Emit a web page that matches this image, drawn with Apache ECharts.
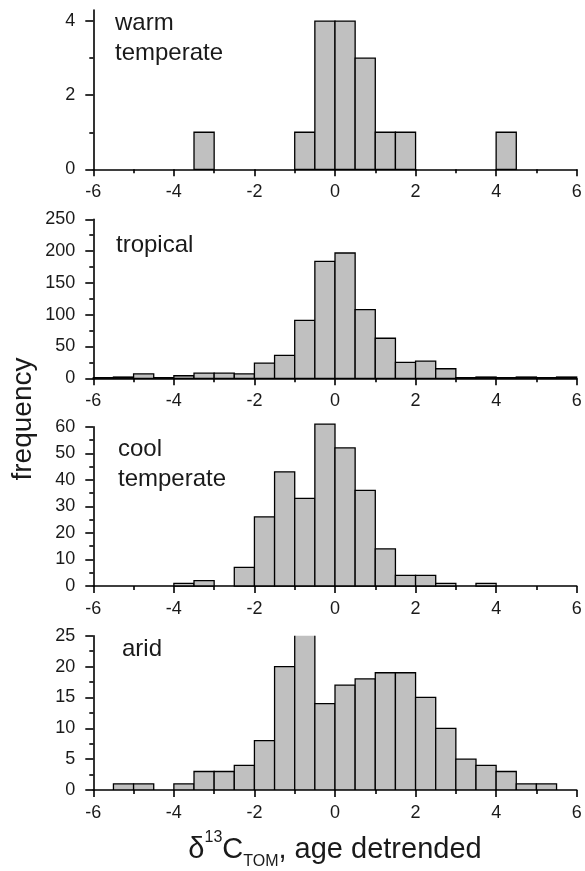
<!DOCTYPE html>
<html>
<head>
<meta charset="utf-8">
<title>Histograms of detrended δ13C</title>
<script src="https://cdn.jsdelivr.net/npm/echarts@6/dist/echarts.min.js"></script>
<style>
  html, body { margin: 0; padding: 0; background: #fff; }
  #chart { width: 585px; height: 871px; }
</style>
</head>
<body>
<div id="chart"></div>
<script>
// Lower edges of the 0.5-wide histogram bins
const binStarts = [-6, -5.5, -5, -4.5, -4, -3.5, -3, -2.5, -2, -1.5, -1, -0.5,
                   0, 0.5, 1, 1.5, 2, 2.5, 3, 3.5, 4, 4.5, 5, 5.5];
const binWidth = 0.5;

// Counts per bin for each climate zone
const warmTemperate = [0, 0, 0, 0, 0, 1, 0, 0, 0, 0, 1, 4, 4, 3, 1, 1, 0, 0, 0, 0, 1, 0, 0, 0];
const tropical      = [1, 2, 7, 1, 4, 8, 8, 7, 24, 36, 91, 184, 197, 108, 63, 25, 27, 15, 1, 2, 1, 2, 1, 2];
const coolTemperate = [0, 0, 0, 0, 1, 2, 0, 7, 26, 43, 33, 61, 52, 36, 14, 4, 4, 1, 0, 1, 0, 0, 0, 0];
const arid          = [0, 1, 1, 0, 1, 3, 3, 4, 8, 20, 26, 14, 17, 18, 19, 19, 15, 10, 5, 4, 3, 1, 1, 0];

// Tick values
const xTicks = [-6, -4, -2, 0, 2, 4, 6];
const warmTicks = [0, 2, 4];
const tropicalTicks = [0, 50, 100, 150, 200, 250];
const coolTicks = [0, 10, 20, 30, 40, 50, 60];
const aridTicks = [0, 5, 10, 15, 20, 25];

const FONT = '"Liberation Sans", Arial, Helvetica, sans-serif';
const INK = '#1a1a1a';

const panels = [
  { label: 'warm\ntemperate', data: warmTemperate, ticks: warmTicks, max: 4.3, interval: 2,
    minorSplit: 2, top: 10, height: 159.3, labelX: 115, labelY: 8, clip: false },
  { label: 'tropical', data: tropical, ticks: tropicalTicks, max: 250, interval: 50,
    minorSplit: 2, top: 219.3, height: 159, labelX: 116, labelY: 230.5, clip: false },
  { label: 'cool\ntemperate', data: coolTemperate, ticks: coolTicks, max: 60, interval: 10,
    minorSplit: 2, top: 426.7, height: 159.3, labelX: 118, labelY: 434.5, clip: false },
  { label: 'arid', data: arid, ticks: aridTicks, max: 25, interval: 5,
    minorSplit: 2, top: 635.7, height: 158.6, labelX: 122, labelY: 634.5, clip: true }
];

const axisLineStyle = { color: '#000', width: 1.6 };
const tickLine = { color: '#000', width: 1.6 };

const grid = [], xAxis = [], yAxis = [], series = [], graphic = [];

panels.forEach((p, i) => {
  grid.push({ left: 93.3, width: 483.4, top: p.top, height: p.height });

  const xa = {
    type: 'value', gridIndex: i, min: -6, max: 6, interval: 2,
    axisLine: { show: true, onZero: false, lineStyle: axisLineStyle },
    axisTick: { show: true, inside: false, length: 7, lineStyle: tickLine },
    minorTick: { show: true, splitNumber: 2, length: 4, lineStyle: tickLine },
    axisLabel: {
      show: true, margin: 14, fontSize: 18, fontFamily: FONT, color: INK,
      customValues: xTicks
    },
    splitLine: { show: false },
    minorSplitLine: { show: false }
  };
  if (i === panels.length - 1) {
    xa.name = 'δ{sup|13}C{sub|TOM}{m|, age detrended}';
    xa.nameLocation = 'middle';
    xa.nameGap = 40;
    xa.nameTextStyle = {
      fontFamily: FONT, fontSize: 29, color: INK, lineHeight: 40,
      rich: {
        sup: { fontFamily: FONT, fontSize: 16, color: INK, lineHeight: 24, verticalAlign: 'top' },
        sub: { fontFamily: FONT, fontSize: 16, color: INK, lineHeight: 14, verticalAlign: 'bottom' },
        m: { fontFamily: FONT, fontSize: 29, color: INK, lineHeight: 40 }
      }
    };
  }
  xAxis.push(xa);

  yAxis.push({
    type: 'value', gridIndex: i, min: 0, max: p.max, interval: p.interval,
    axisLine: { show: true, onZero: false, lineStyle: axisLineStyle },
    axisTick: { show: true, inside: false, length: 8, customValues: p.ticks, lineStyle: tickLine },
    minorTick: { show: true, splitNumber: p.minorSplit, length: 4, lineStyle: tickLine },
    axisLabel: { show: true, margin: 18, fontSize: 18, fontFamily: FONT, color: INK,
                 customValues: p.ticks },
    splitLine: { show: false },
    minorSplitLine: { show: false }
  });

  series.push({
    type: 'custom',
    xAxisIndex: i, yAxisIndex: i,
    clip: p.clip,
    data: binStarts.map((b, k) => [b, b + binWidth, p.data[k]]),
    renderItem: (params, api) => {
      const v = api.value(2);
      if (!v) return null;
      const p0 = api.coord([api.value(0), v]);
      const p1 = api.coord([api.value(1), 0]);
      return {
        type: 'rect',
        shape: { x: p0[0], y: p0[1], width: p1[0] - p0[0], height: p1[1] - p0[1] },
        style: { fill: '#c0c0c0', stroke: '#000', lineWidth: 1.3 }
      };
    },
    z: 1
  });

  graphic.push({
    type: 'text', left: p.labelX, top: p.labelY, z: 10,
    style: { text: p.label, font: '24px ' + FONT, fill: INK, lineHeight: 30 }
  });
});

graphic.push({
  type: 'text', x: 23, y: 419, rotation: Math.PI / 2, z: 10,
  style: { text: 'frequency', font: '28px ' + FONT, fill: INK, align: 'center', verticalAlign: 'middle' }
});

const chart = echarts.init(document.getElementById('chart'), null, { renderer: 'canvas' });
chart.setOption({
  backgroundColor: '#ffffff',
  animation: false,
  grid, xAxis, yAxis, series, graphic
});
</script>
</body>
</html>
